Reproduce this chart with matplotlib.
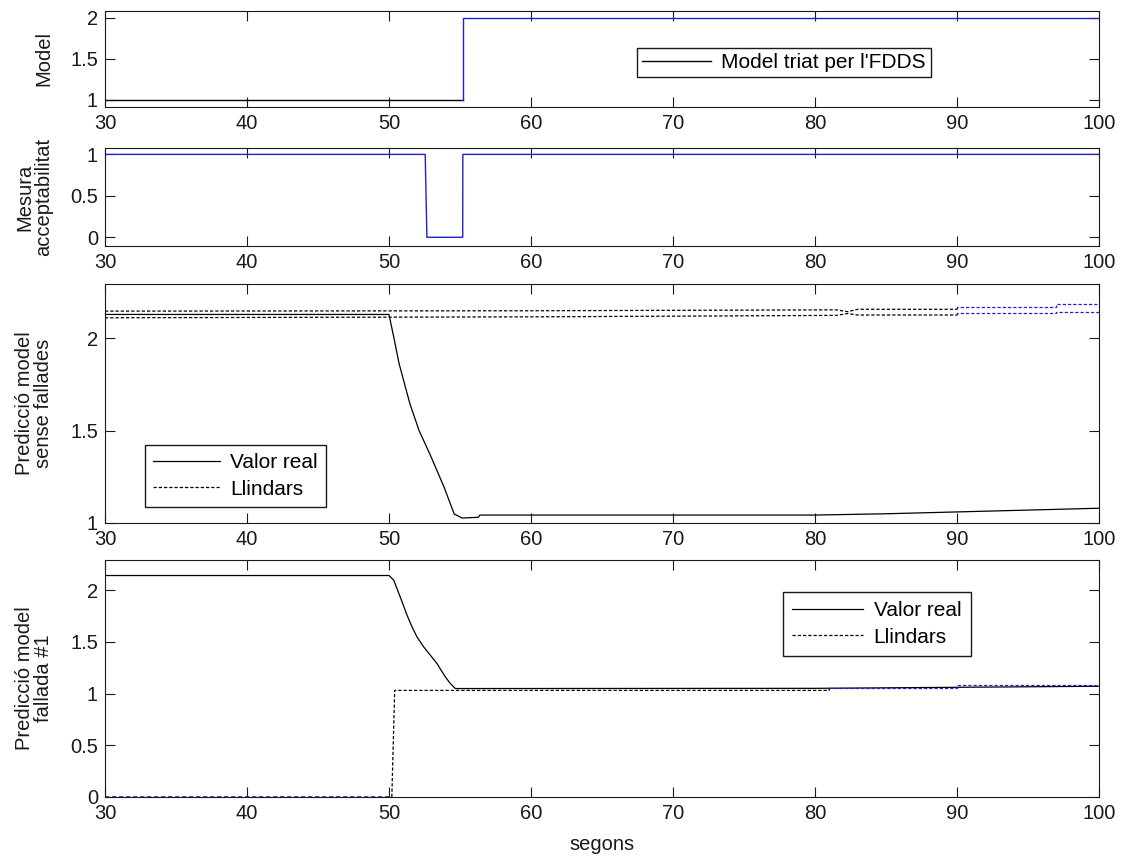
import matplotlib
matplotlib.use("Agg")
import matplotlib.pyplot as plt
from matplotlib.ticker import FormatStrFormatter
import numpy as np

plt.rcParams['font.family'] = ['Liberation Sans', 'DejaVu Sans']

# ---- data -------------------------------------------------------------
# model selected by the FDDS (1 = nominal, 2 = fault #1)
t_model = [30, 55.2, 55.2, 100]
model = [1, 1, 2, 2]
model_blue_from = 1          # index where the blue part starts

# acceptability measure
t_acc = [30, 52.55, 52.67, 55.19, 55.2, 100]
acc = [1, 1, 0, 0, 1, 1]

# prediction of the fault-free model
t_real3 = [30, 50, 50.33, 50.71, 51.09, 51.47, 52.11, 52.87, 53.88, 54.59, 55.15,
           56.3, 56.4, 80, 85, 90, 95, 100]
real3 = [2.13, 2.13, 2.009, 1.864, 1.755, 1.647, 1.502, 1.375, 1.194, 1.049, 1.027,
         1.031, 1.043, 1.043, 1.05, 1.06, 1.07, 1.08]
t_thr3 = [30, 60, 81.5, 82.3, 83, 90, 90, 97, 97, 100]
upper3 = [2.148, 2.150, 2.155, 2.145, 2.158, 2.158, 2.172, 2.172, 2.185, 2.185]
lower3 = [2.112, 2.117, 2.125, 2.135, 2.127, 2.127, 2.137, 2.137, 2.142, 2.142]
thr3_blue_from = 5

# prediction of the fault #1 model
t_real4 = [30, 50, 50.33, 50.56, 50.92, 51.27, 51.62, 51.97, 52.44, 52.91, 53.38,
           53.97, 54.32, 54.67, 56.0, 80, 90, 100]
real4 = [2.14, 2.14, 2.096, 2.015, 1.886, 1.757, 1.644, 1.547, 1.451, 1.370, 1.289,
         1.160, 1.096, 1.048, 1.048, 1.05, 1.06, 1.07]
t_thr4 = [30, 50.2, 50.4, 81, 81, 90, 90, 100]
thr4 = [0, 0, 1.03, 1.03, 1.05, 1.05, 1.085, 1.085]
thr4_black = (1, 4)          # index range drawn in black

BLUE = '#2020d0'
INK = '#1a1a1a'
DASH = (0, (2.6, 1.6))
FS_TICK = 14.5
FS_LAB = 14.5
FS_LEG = 15

fig = plt.figure(figsize=(11.24, 8.56), dpi=100)
L, W = 105 / 1124, 994 / 1124


def make_axes(top_px, bot_px):
    return fig.add_axes([L, 1 - bot_px / 856, W, (bot_px - top_px) / 856])


ax1 = make_axes(11, 107)
ax2 = make_axes(148, 246)
ax3 = make_axes(284, 523)
ax4 = make_axes(560, 797)

for ax in (ax1, ax2, ax3, ax4):
    ax.set_xlim(30, 100)
    ax.set_xticks(np.arange(30, 101, 10))
    ax.tick_params(direction='in', top=True, right=True, length=7, width=0.8,
                   labelsize=FS_TICK, colors=INK, pad=5)
    ax.yaxis.set_major_formatter(FormatStrFormatter('%g'))
    for s in ax.spines.values():
        s.set_linewidth(0.8)
        s.set_color(INK)

legend_style = dict(fontsize=FS_LEG, frameon=True, fancybox=False, edgecolor=INK,
                    framealpha=1, borderaxespad=0, handletextpad=0.5)

# ---- panel 1: chosen model
ax1.plot(t_model[:model_blue_from + 1], model[:model_blue_from + 1], color='black', lw=1.0,
         label="Model triat per l'FDDS")
ax1.plot(t_model[model_blue_from:], model[model_blue_from:], color=BLUE, lw=1.0)
ax1.set_ylim(0.91, 2.085)
ax1.set_yticks([1, 1.5, 2])
ax1.set_ylabel('Model', fontsize=FS_LAB, color=INK)
ax1.legend(loc='upper left', bbox_to_anchor=(0.535, 0.615), handlelength=3.3,
           borderpad=0.25, borderaxespad=0, fontsize=FS_LEG, frameon=True, fancybox=False,
           edgecolor=INK, framealpha=1, handletextpad=0.5)

# ---- panel 2: acceptability
ax2.plot(t_acc, acc, color=BLUE, lw=1.0)
ax2.set_ylim(-0.105, 1.077)
ax2.set_yticks([0, 0.5, 1])
ax2.set_ylabel('Mesura\nacceptabilitat', fontsize=FS_LAB, color=INK, linespacing=1.0)

# ---- panel 3: fault-free model prediction
ax3.plot(t_real3, real3, color='black', lw=0.9, label='Valor real')
ax3.plot(t_thr3[:thr3_blue_from + 1], upper3[:thr3_blue_from + 1], color='black', lw=0.9,
         ls=DASH, label='Llindars')
ax3.plot(t_thr3[:thr3_blue_from + 1], lower3[:thr3_blue_from + 1], color='black', lw=0.9, ls=DASH)
ax3.plot(t_thr3[thr3_blue_from:], upper3[thr3_blue_from:], color=BLUE, lw=0.9, ls=DASH)
ax3.plot(t_thr3[thr3_blue_from:], lower3[thr3_blue_from:], color=BLUE, lw=0.9, ls=DASH)
ax3.set_ylim(1, 2.295)
ax3.set_yticks([1, 1.5, 2])
ax3.set_ylabel('Predicció model\nsense fallades', fontsize=FS_LAB, color=INK, linespacing=1.0)
ax3.legend(loc='upper left', bbox_to_anchor=(0.04, 0.326), handlelength=3.2,
           borderpad=0.4, labelspacing=0.35, **legend_style)

# ---- panel 4: fault #1 model prediction
a, b = thr4_black
ax4.plot(t_real4, real4, color='black', lw=0.9, label='Valor real')
ax4.plot(t_thr4[a:b + 1], thr4[a:b + 1], color='black', lw=0.9, ls=DASH, label='Llindars')
ax4.plot(t_thr4[:a + 1], thr4[:a + 1], color=BLUE, lw=1.2, ls=DASH)
ax4.plot(t_thr4[b:], thr4[b:], color=BLUE, lw=0.9, ls=DASH)
ax4.set_ylim(0, 2.29)
ax4.set_yticks([0, 0.5, 1, 1.5, 2])
ax4.set_ylabel('Predicció model\nfallada #1', fontsize=FS_LAB, color=INK, linespacing=1.0)
ax4.set_xlabel('segons', fontsize=FS_LAB, color=INK, labelpad=9)
ax4.legend(loc='upper left', bbox_to_anchor=(0.682, 0.865), handlelength=3.4,
           borderpad=0.45, labelspacing=0.35, **legend_style)

for ax in (ax1, ax2, ax3, ax4):
    ax.yaxis.set_label_coords(-0.052, 0.5)

fig.savefig('out.png', dpi=100, facecolor='white')
